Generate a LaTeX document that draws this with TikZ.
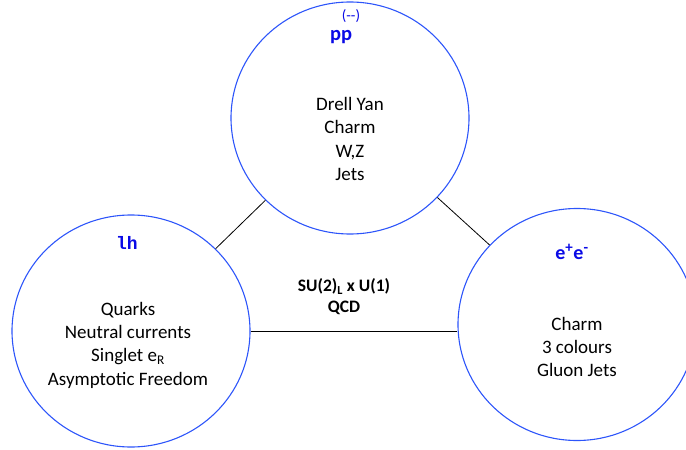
\documentclass[tikz,border=0pt]{standalone}
\usepackage{fontspec}
\setmainfont{Carlito}
\newfontfamily\monobold{Liberation Mono}
\usetikzlibrary{shapes.geometric}
\definecolor{ringblue}{RGB}{45,85,250}
\definecolor{titleblue}{RGB}{10,10,230}
\tikzset{
  ring/.style={draw=ringblue, line width=1.1pt, ellipse, minimum width=238pt, minimum height=232pt, inner sep=0pt},
  body/.style={align=center, font=\fontsize{19}{23.3}\selectfont, text=black, inner sep=0pt},
  title/.style={text=titleblue, inner sep=0pt},
  link/.style={draw=black, line width=0.8pt}
}
\begin{document}
\begin{tikzpicture}[x=1pt, y=-1pt]
\useasboundingbox (0,0) rectangle (686,450);
\node[ring] (top) at (350,118) {};
\node[ring] (left) at (131,331) {};
\node[ring] (right) at (577,324.5) {};
\draw[link] (top) -- (left);
\draw[link] (top) -- (right);
\draw[link] (left.east) -- (left.east -| right.west);
\node[title, font=\fontsize{20.5}{22}\selectfont\bfseries] (toptitle) at (341,37) {pp};
\node[title, font=\fontsize{15}{16}\selectfont] (topbar) at (351,16) {(-{}-)};
\node[title, font=\fontsize{18}{20}\monobold\bfseries] (lefttitle) at (127,243) {lh};
\node[title, font=\fontsize{20}{22}\selectfont\bfseries] (righttitle) at (572,252) {e\textsuperscript{\fontsize{15}{16}\selectfont+}e\textsuperscript{\fontsize{15}{16}\selectfont-}};
\node[body] (topbody) at (350,139) {Drell Yan\\Charm\\W,Z\\Jets};
\node[body] (leftbody) at (128,345) {Quarks\\Neutral currents\\Singlet e\textsubscript{R}\\Asymptotic Freedom};
\node[body] (rightbody) at (577,347) {Charm\\3 colours\\Gluon Jets};
\node[body, font=\fontsize{17.5}{21}\selectfont\bfseries] (center) at (344,297) {SU(2)\textsubscript{L} x U(1)\\QCD};
\end{tikzpicture}
\end{document}
